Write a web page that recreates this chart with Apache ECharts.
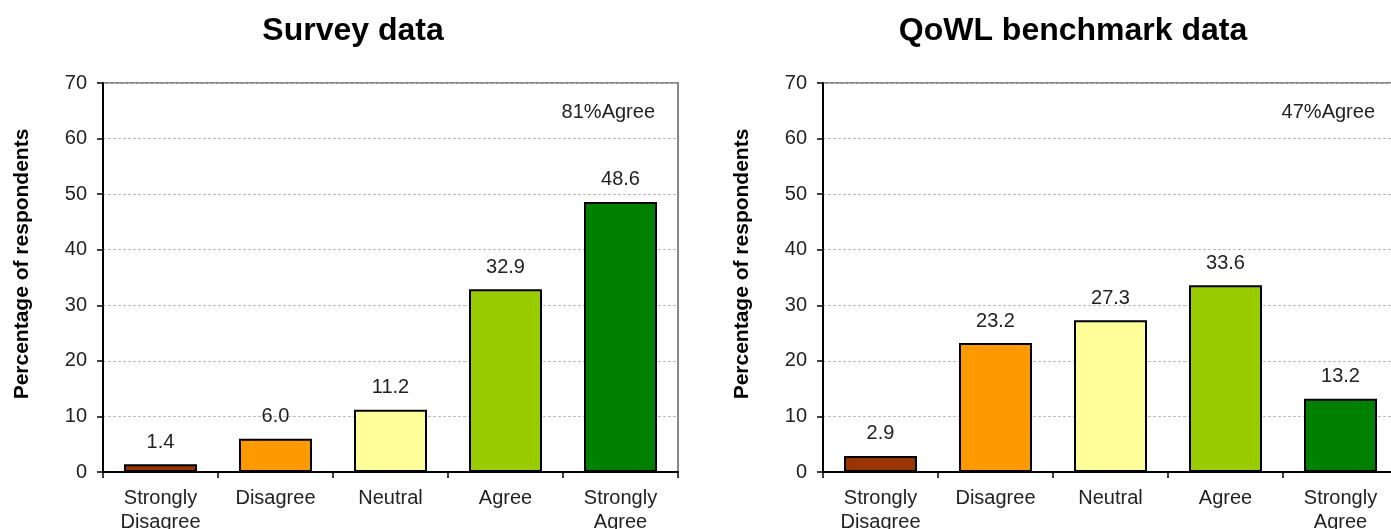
<!DOCTYPE html>
<html>
<head>
<meta charset="utf-8">
<script src="https://cdn.jsdelivr.net/npm/echarts@6/dist/echarts.min.js"></script>
<style>
  html, body { margin: 0; padding: 0; background: #fff; }
  #chart { width: 1391px; height: 529px; }
</style>
</head>
<body>
<div id="chart"></div>
<script>
// Response categories (shared by both panels)
const categories = ['Strongly\nDisagree', 'Disagree', 'Neutral', 'Agree', 'Strongly\nAgree'];
const categoryColors = ['#993300', '#FF9900', '#FFFF99', '#99CC00', '#008000'];

// Percentage of respondents per category
const surveyValues = [1.4, 6.0, 11.2, 32.9, 48.6];
const benchmarkValues = [2.9, 23.2, 27.3, 33.6, 13.2];

// Panel titles and summary notes
const panelTitles = ['Survey data', 'QoWL benchmark data'];
const agreeNotes = ['81%Agree', '47%Agree'];
const yAxisTitle = 'Percentage of respondents';

const FONT = 'Liberation Sans, Arial, sans-serif';
const TEXT = '#222';

// Two side-by-side panels; the second one runs slightly past the canvas edge
const grids = [
  { left: 103, top: 83, width: 575, height: 389 },
  { left: 823, top: 83, width: 575, height: 389 }
];

function makeX(i) {
  return {
    type: 'category', gridIndex: i, data: categories,
    axisLine: { lineStyle: { color: '#000', width: 2 } },
    axisTick: { show: true, length: 6, lineStyle: { color: '#000', width: 1.5 } },
    axisLabel: { color: TEXT, fontFamily: FONT, fontSize: 20, lineHeight: 24, margin: 14, interval: 0 }
  };
}
function makeY(i) {
  return {
    type: 'value', gridIndex: i, min: 0, max: 70, interval: 10,
    axisLine: { show: true, lineStyle: { color: '#000', width: 2 } },
    axisTick: { show: true, length: 6, lineStyle: { color: '#000', width: 1.5 } },
    axisLabel: { color: TEXT, fontFamily: FONT, fontSize: 20, margin: 16 },
    splitLine: { show: true, lineStyle: { color: '#bbb', type: [3, 2], width: 1 } }
  };
}
function makeSeries(i, values) {
  return {
    type: 'bar', xAxisIndex: i, yAxisIndex: i, barWidth: 73,
    data: values.map((v, k) => ({
      value: v,
      itemStyle: { color: categoryColors[k], borderColor: '#000', borderWidth: 2 }
    })),
    label: {
      show: true, position: 'top', distance: 12,
      color: TEXT, fontFamily: FONT, fontSize: 20,
      formatter: p => p.value.toFixed(1)
    },
    z: 3
  };
}

function yName(x) {
  return {
    type: 'text', x: x, y: 264, rotation: Math.PI / 2,
    style: { text: yAxisTitle, fill: '#000', font: 'bold 21px ' + FONT,
             align: 'center', verticalAlign: 'middle' }
  };
}
function note(rightEdge, text) {
  return {
    type: 'text', x: rightEdge, y: 112,
    style: { text: text, fill: TEXT, font: '20px ' + FONT, align: 'right', verticalAlign: 'middle' }
  };
}

const chart = echarts.init(document.getElementById('chart'), null, { renderer: 'canvas' });
chart.setOption({
  animation: false,
  backgroundColor: '#fff',
  title: [
    { text: panelTitles[0], left: 348, top: 10, textAlign: 'center',
      textStyle: { fontFamily: FONT, fontSize: 32, fontWeight: 'bold', color: '#000' } },
    { text: panelTitles[1], left: 1068, top: 10, textAlign: 'center',
      textStyle: { fontFamily: FONT, fontSize: 32, fontWeight: 'bold', color: '#000' } }
  ],
  grid: grids.map(g => Object.assign({
    show: true, borderColor: '#888', borderWidth: 2, backgroundColor: 'transparent',
    outerBoundsMode: 'none', containLabel: false
  }, g)),
  xAxis: [makeX(0), makeX(1)],
  yAxis: [makeY(0), makeY(1)],
  series: [makeSeries(0, surveyValues), makeSeries(1, benchmarkValues)],
  graphic: [
    yName(22), yName(742),
    note(655, agreeNotes[0]), note(1375, agreeNotes[1])
  ]
});
</script>
</body>
</html>
